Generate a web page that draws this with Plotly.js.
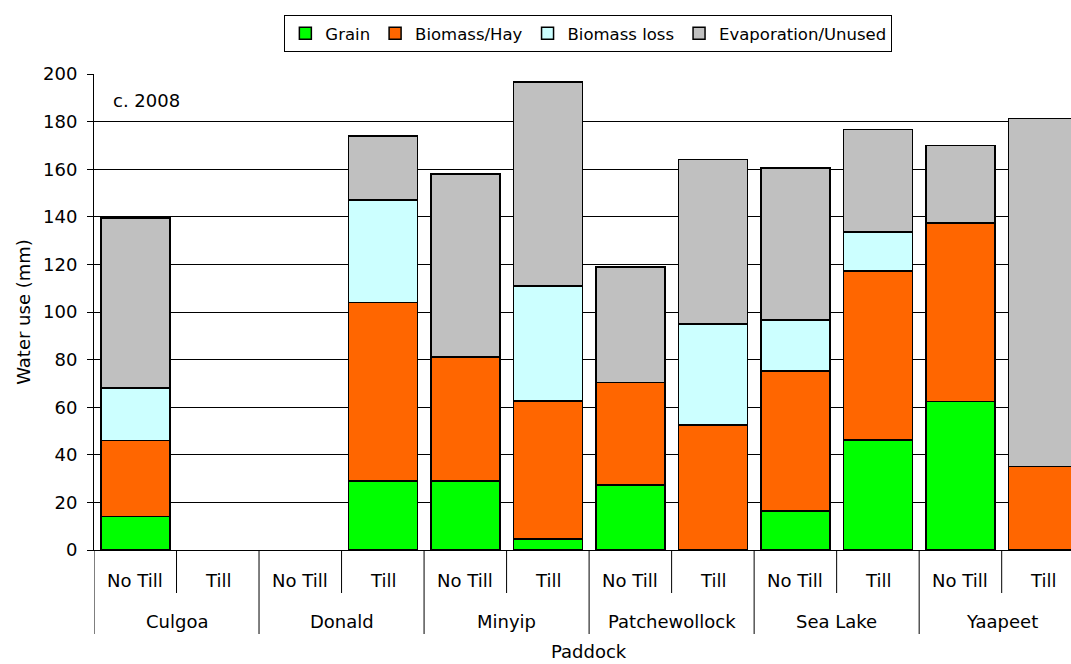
<!DOCTYPE html>
<html>
<head>
<meta charset="utf-8">
<script src="https://cdn.plot.ly/plotly-3.0.1.min.js"></script>
<style>
html,body{margin:0;padding:0;background:#fff;overflow:hidden;}
#chart{width:1071px;height:664px;}
</style>
</head>
<body>
<div id="chart"></div>
<script>
const paddockNames = ['Culgoa','Donald','Minyip','Patchewollock','Sea Lake','Yaapeet'];
const paddocks = ['Culgoa','Culgoa','Donald','Donald','Minyip','Minyip','Patchewollock','Patchewollock','Sea Lake','Sea Lake','Yaapeet','Yaapeet'];
const tillage = ['No Till','Till','No Till','Till','No Till','Till','No Till','Till','No Till','Till','No Till','Till'];
const grain = [14, 0, 0, 29, 29, 4.6, 27.3, 0, 16.4, 46.2, 62.3, 0];
const biomassHay = [32, 0, 0, 75, 52, 58, 43, 52.5, 58.8, 71, 75.1, 35];
const biomassLoss = [22, 0, 0, 43, 0, 48.4, 0, 42.5, 21.4, 16.4, 0, 0];
const evaporation = [71.5, 0, 0, 27, 77, 85.6, 48.7, 69, 64, 43, 32.5, 146.4];

const seriesNames = ['Grain','Biomass/Hay','Biomass loss','Evaporation/Unused'];
const seriesColors = ['#00FF00','#FF6600','#CCFFFF','#C0C0C0'];
const seriesValues = [grain, biomassHay, biomassLoss, evaporation];

const font = 'DejaVu Sans, Verdana, sans-serif';
const fs = 18;
const xIdx = tillage.map((_, i) => i);

const traces = seriesValues.map((vals, i) => ({
  type: 'bar',
  name: seriesNames[i],
  x: xIdx,
  y: vals.map(v => v === 0 ? null : v),
  customdata: paddocks.map((p, j) => p + ' ' + tillage[j]),
  marker: {color: seriesColors[i], line: {color: '#000', width: 1.5}},
  hovertemplate: '%{customdata}: %{y}<extra>' + seriesNames[i] + '</extra>'
}));

const plotH = 476; // px height of plot area (for paper offsets)
const annotations = [];
const shapes = [];
tillage.forEach((t, i) => {
  annotations.push({text: t, xref: 'x', yref: 'paper', x: i, y: -30 / plotH,
    xanchor: 'center', yanchor: 'middle', showarrow: false,
    font: {family: font, size: fs, color: '#000'}});
});
paddockNames.forEach((p, k) => {
  annotations.push({text: p, xref: 'x', yref: 'paper', x: 2 * k + 0.5, y: -71 / plotH,
    xanchor: 'center', yanchor: 'middle', showarrow: false,
    font: {family: font, size: fs, color: '#000'}});
  shapes.push({type: 'line', xref: 'x', yref: 'paper', x0: 2 * k + 0.5, x1: 2 * k + 0.5,
    y0: 0, y1: -43 / plotH, line: {color: '#000', width: 1}});
  shapes.push({type: 'line', xref: 'x', yref: 'paper', x0: 2 * k - 0.5, x1: 2 * k - 0.5,
    y0: 0, y1: -84 / plotH, line: {color: '#000', width: 1}});
});
annotations.push({text: 'Paddock', xref: 'x', yref: 'paper', x: 5.5, y: -101 / plotH,
  xanchor: 'center', yanchor: 'middle', showarrow: false,
  font: {family: font, size: fs, color: '#000'}});
annotations.push({text: 'c. 2008', xref: 'paper', yref: 'paper', x: 0.017, y: 0.945,
  xanchor: 'left', yanchor: 'middle', showarrow: false,
  font: {family: font, size: fs, color: '#000'}});

const layout = {
  width: 1071, height: 664,
  barmode: 'stack',
  bargap: 0.164,
  paper_bgcolor: '#fff', plot_bgcolor: '#fff',
  margin: {l: 94, r: 0, t: 74, b: 114, autoexpand: false},
  font: {family: font, size: fs, color: '#000'},
  showlegend: true,
  legend: {
    orientation: 'h', x: 0.506, xanchor: 'center', y: 1.124, yanchor: 'top',
    bordercolor: '#000', borderwidth: 1, bgcolor: '#fff',
    font: {family: font, size: 16.5, color: '#000'},
    traceorder: 'normal', itemwidth: 30
  },
  xaxis: {
    type: 'linear',
    range: [-0.5, 11.34],
    showline: true, linecolor: '#000', linewidth: 1,
    ticks: '', showticklabels: false,
    showgrid: false, zeroline: false, fixedrange: true
  },
  yaxis: {
    range: [0, 200], dtick: 20,
    showline: true, linecolor: '#000', linewidth: 1,
    ticks: 'outside', ticklen: 6, tickcolor: '#000',
    ticklabelstandoff: 6,
    showgrid: true, gridcolor: '#000', gridwidth: 1,
    zeroline: false,
    tickfont: {family: font, size: fs, color: '#000'},
    title: {text: 'Water use (mm)', font: {family: font, size: fs, color: '#000'}, standoff: 7}
  },
  shapes: shapes,
  annotations: annotations
};

Plotly.newPlot('chart', traces, layout, {displayModeBar: false, staticPlot: true});
</script>
</body>
</html>
